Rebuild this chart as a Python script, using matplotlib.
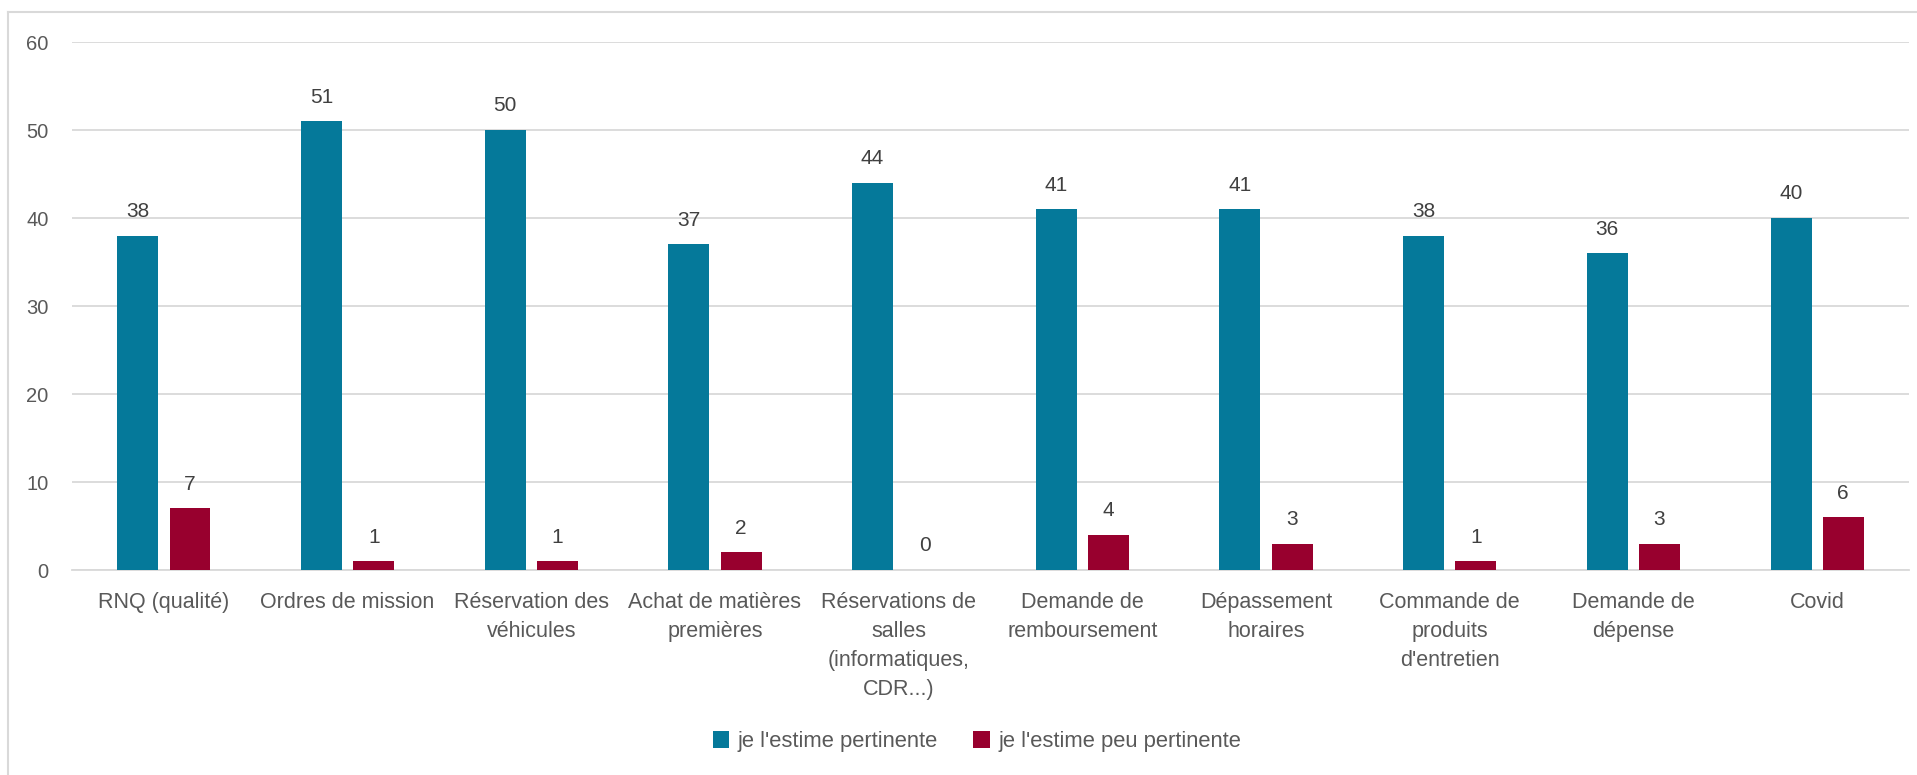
import matplotlib.pyplot as plt
from matplotlib.lines import Line2D
import numpy as np

categories = [
    "RNQ (qualité)",
    "Ordres de mission",
    "Réservation des\nvéhicules",
    "Achat de matières\npremières",
    "Réservations de\nsalles\n(informatiques,\nCDR...)",
    "Demande de\nremboursement",
    "Dépassement\nhoraires",
    "Commande de\nproduits\nd'entretien",
    "Demande de\ndépense",
    "Covid",
]
pertinente = [38, 51, 50, 37, 44, 41, 41, 38, 36, 40]
peu_pertinente = [7, 1, 1, 2, 0, 4, 3, 1, 3, 6]
series_names = ["je l'estime pertinente", "je l'estime peu pertinente"]

plt.rcParams['font.family'] = ['Liberation Sans', 'DejaVu Sans']

blue = '#05799A'
red = '#98002E'
grid_col = '#D9D9D9'
label_col = '#595959'
value_col = '#404040'

fig = plt.figure(figsize=(19.17, 7.75), dpi=100)
ax = fig.add_axes([0.0376, 0.2645, 0.9582, 0.6813])

x = np.arange(len(categories))
w = 0.223
off = 0.142
b1 = ax.bar(x - off, pertinente, w, color=blue, label=series_names[0], zorder=3)
b2 = ax.bar(x + off, peu_pertinente, w, color=red, label=series_names[1], zorder=3)

for bars in (b1, b2):
    ax.bar_label(bars, padding=10.5, fontsize=15, color=value_col)

ax.set_xlim(-0.5, len(categories) - 0.5)
ax.set_ylim(0, 60)
ax.set_yticks(range(0, 61, 10))
ax.yaxis.grid(True, color=grid_col, linewidth=1.3, zorder=0)
ax.set_axisbelow(True)

for s in ['top', 'right', 'left']:
    ax.spines[s].set_visible(False)
ax.spines['bottom'].set_color(grid_col)
ax.spines['bottom'].set_linewidth(1.3)

ax.tick_params(axis='y', length=0, pad=17, labelsize=14.5, labelcolor=label_col)
ax.tick_params(axis='x', length=0, pad=15.5, labelsize=15.5, labelcolor=label_col)
ax.set_xticks(x)
ax.set_xticklabels(categories, linespacing=1.5)

fig.legend(loc='center', bbox_to_anchor=(0.5097, 0.043), ncol=2, frameon=False,
           fontsize=15.8, labelcolor=label_col, handlelength=0.75, handleheight=0.75,
           handletextpad=0.4, columnspacing=1.6)

# chart area border (top and left edges)
fig.add_artist(Line2D([8 / 1917, 8 / 1917], [0, 1 - 12 / 775], color=grid_col,
                      linewidth=1.5, transform=fig.transFigure))
fig.add_artist(Line2D([8 / 1917, 1], [1 - 12 / 775, 1 - 12 / 775], color=grid_col,
                      linewidth=1.5, transform=fig.transFigure))

fig.savefig('out.png', dpi=100)
